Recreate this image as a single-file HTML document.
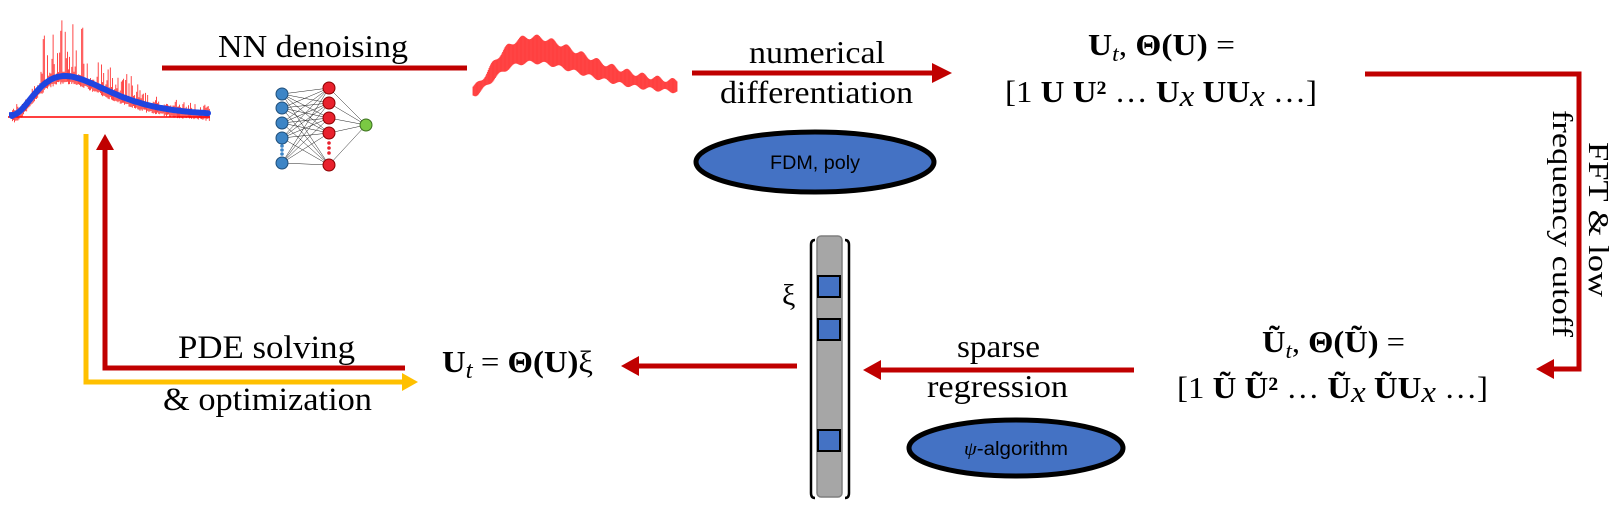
<!DOCTYPE html>
<html><head><meta charset="utf-8"><style>
html,body{margin:0;padding:0;background:#fff;}
svg{display:block;}
text{font-family:"Liberation Serif",serif;fill:#000;}
.s{font-family:"Liberation Sans",sans-serif;}
</style></head><body>
<svg id="svg" width="1620" height="509" viewBox="0 0 1620 509" xmlns="http://www.w3.org/2000/svg">
<g id="sig1"></g>
<g id="sig2"></g>
<path id="blue" d="" fill="none" stroke="#1f45e0" stroke-width="6" stroke-linecap="round"/>

<text x="218" y="57" font-size="32" textLength="190" lengthAdjust="spacingAndGlyphs">NN denoising</text>
<line x1="162" y1="68" x2="467" y2="68" stroke="#c00000" stroke-width="5"/>
<g id="nn" stroke="#222" stroke-width="0.5"></g>

<line x1="692" y1="73" x2="935" y2="73" stroke="#c00000" stroke-width="5"/>
<polygon points="952,73 932,63 932,83" fill="#c00000"/>
<text x="749" y="63" font-size="32" textLength="136" lengthAdjust="spacingAndGlyphs">numerical</text>
<text x="720" y="103" font-size="32" textLength="193" lengthAdjust="spacingAndGlyphs">differentiation</text>
<ellipse cx="815" cy="162" rx="119" ry="30" fill="#4472c4" stroke="#000" stroke-width="5"/>
<text class="s" x="815" y="169" font-size="19" text-anchor="middle" textLength="90" lengthAdjust="spacingAndGlyphs">FDM, poly</text>

<text x="1088" y="55" font-size="31" textLength="147" lengthAdjust="spacingAndGlyphs"><tspan font-weight="bold">U</tspan><tspan font-style="italic" font-size="22" dy="6">t</tspan><tspan dy="-6">, </tspan><tspan font-weight="bold">Θ(U)</tspan> =</text>
<text x="1005" y="102" font-size="31" textLength="312" lengthAdjust="spacingAndGlyphs">[1 <tspan font-weight="bold">U U²</tspan> … <tspan font-weight="bold">U</tspan><tspan font-style="italic" dy="4">x</tspan><tspan dy="-4"> </tspan><tspan font-weight="bold">UU</tspan><tspan font-style="italic" dy="4">x</tspan><tspan dy="-4"> …]</tspan></text>

<polyline points="1365,74 1579,74 1579,369 1550,369" fill="none" stroke="#c00000" stroke-width="5"/>
<polygon points="1536,369 1554,359 1554,379" fill="#c00000"/>
<text transform="translate(1589,142) rotate(90)" font-size="29" textLength="155" lengthAdjust="spacingAndGlyphs">FFT &amp; low</text>
<text transform="translate(1553,110) rotate(90)" font-size="29" textLength="227" lengthAdjust="spacingAndGlyphs">frequency cutoff</text>

<text x="1262" y="352" font-size="31" textLength="143" lengthAdjust="spacingAndGlyphs"><tspan font-weight="bold">Ũ</tspan><tspan font-style="italic" font-size="22" dy="6">t</tspan><tspan dy="-6">, </tspan><tspan font-weight="bold">Θ(Ũ)</tspan> =</text>
<text x="1177" y="398" font-size="31" textLength="311" lengthAdjust="spacingAndGlyphs">[1 <tspan font-weight="bold">Ũ Ũ²</tspan> … <tspan font-weight="bold">Ũ</tspan><tspan font-style="italic" dy="4">x</tspan><tspan dy="-4"> </tspan><tspan font-weight="bold">ŨU</tspan><tspan font-style="italic" dy="4">x</tspan><tspan dy="-4"> …]</tspan></text>

<line x1="1134" y1="370" x2="878" y2="370" stroke="#c00000" stroke-width="5"/>
<polygon points="863,370 881,360 881,380" fill="#c00000"/>
<text x="957" y="357" font-size="32" textLength="83" lengthAdjust="spacingAndGlyphs">sparse</text>
<text x="927" y="397" font-size="32" textLength="141" lengthAdjust="spacingAndGlyphs">regression</text>
<ellipse cx="1016" cy="448" rx="107" ry="28" fill="#4472c4" stroke="#000" stroke-width="5"/>
<text class="s" x="964" y="455" font-size="19" textLength="104" lengthAdjust="spacingAndGlyphs"><tspan font-family="Liberation Serif" font-style="italic">ψ</tspan>-algorithm</text>

<rect x="817" y="236" width="25" height="261" rx="4" fill="#a6a6a6" stroke="#7f7f7f" stroke-width="1.5"/>
<path d="M815,240 q-4,0 -4,5 L811,493 q0,5 4,5" fill="none" stroke="#000" stroke-width="2.5"/>
<path d="M845,240 q4,0 4,5 L849,493 q0,5 -4,5" fill="none" stroke="#000" stroke-width="2.5"/>
<rect x="818" y="276" width="22" height="21" fill="#4472c4" stroke="#000" stroke-width="2"/>
<rect x="818" y="319" width="22" height="21" fill="#4472c4" stroke="#000" stroke-width="2"/>
<rect x="818" y="430" width="22" height="21" fill="#4472c4" stroke="#000" stroke-width="2"/>
<text x="782" y="305" font-size="30">ξ</text>

<line x1="797" y1="366" x2="636" y2="366" stroke="#c00000" stroke-width="5"/>
<polygon points="621,366 639,356 639,376" fill="#c00000"/>
<text x="442" y="372" font-size="31" textLength="151" lengthAdjust="spacingAndGlyphs"><tspan font-weight="bold">U</tspan><tspan font-style="italic" font-size="24" dy="6">t</tspan><tspan dy="-6"> = </tspan><tspan font-weight="bold">Θ(U)</tspan>ξ</text>

<polyline points="405,368 105,368 105,146" fill="none" stroke="#c00000" stroke-width="5"/>
<polygon points="105,134 96,150 114,150" fill="#c00000"/>
<polyline points="86,134 86,382 404,382" fill="none" stroke="#ffc000" stroke-width="5"/>
<polygon points="418,382 402,373 402,391" fill="#ffc000"/>
<text x="178" y="358" font-size="33" textLength="177" lengthAdjust="spacingAndGlyphs">PDE solving</text>
<text x="163" y="410" font-size="33" textLength="209" lengthAdjust="spacingAndGlyphs">&amp; optimization</text>
</svg>
<script>
(function(){
var NS="http://www.w3.org/2000/svg";
var seed=7;function rnd(){seed=(seed*16807)%2147483647;return seed/2147483647;}
function el(t,a,p){var e=document.createElementNS(NS,t);for(var k in a)e.setAttribute(k,a[k]);p.appendChild(e);return e;}
var g1=document.getElementById('sig1');
function b1(x){var u=x-12;var peak=65-12;var v=u/peak;return 116-39*Math.pow(v,2.2)*Math.exp(2.2*(1-v));}
for(var x=8;x<=210;x+=1.1){var b=b1(x);var amp=(x<40?8:x<90?60:x<140?25:8)*Math.pow(rnd(),3);var top=b-amp-rnd()*6;if(top<15)top=15;
 el('line',{x1:x,y1:(b+4+rnd()*3).toFixed(1),x2:x,y2:top.toFixed(1),stroke:'#ff0000','stroke-width':0.8,'stroke-opacity':0.9},g1);}
el('line',{x1:8,y1:117,x2:210,y2:117,stroke:'#ff0000','stroke-width':1.5},g1);
var pd="M12,116";for(var x=12;x<=208;x+=2){pd+=" L"+x+","+(b1(x)-1).toFixed(1);}
document.getElementById('blue').setAttribute('d',pd);
var g2=document.getElementById('sig2');
function b2(x){var v=(x-473)/(532-473);return 90-40*Math.pow(v,1.8)*Math.exp(1.8*(1-v));}
for(var x=473;x<=677;x+=0.8){var b=b2(x);var osc=(Math.sin((x-473)/2.4)+1)*0.5;var h=Math.max(3,(94-b)*0.35+7*osc);
 el('line',{x1:x,y1:(b+h*0.5+3).toFixed(1),x2:x,y2:(b-h*0.7).toFixed(1),stroke:'#ff0000','stroke-width':0.9,'stroke-opacity':0.75},g2);}
var nn=document.getElementById('nn');
var L1=[94,108,123,138,163],L2=[88,103,118,133,165],ox=366,oy=125;
L1.forEach(function(a){L2.forEach(function(b){el('line',{x1:282,y1:a,x2:329,y2:b},nn);});});
L2.forEach(function(b){el('line',{x1:329,y1:b,x2:ox,y2:oy},nn);});
L1.forEach(function(a){el('circle',{cx:282,cy:a,r:6,fill:'#3d85c6',stroke:'#1f4e79','stroke-width':1},nn);});
[146,150,154].forEach(function(a){el('circle',{cx:282,cy:a,r:1.8,fill:'#3d85c6',stroke:'none'},nn);});
L2.forEach(function(b){el('circle',{cx:329,cy:b,r:6,fill:'#e8212d',stroke:'#8b0000','stroke-width':1},nn);});
[143,148,153].forEach(function(a){el('circle',{cx:329,cy:a,r:1.8,fill:'#e8212d',stroke:'none'},nn);});
el('circle',{cx:ox,cy:oy,r:6,fill:'#7ac943',stroke:'#3b6e1f','stroke-width':1},nn);
})();
</script>
</body></html>
